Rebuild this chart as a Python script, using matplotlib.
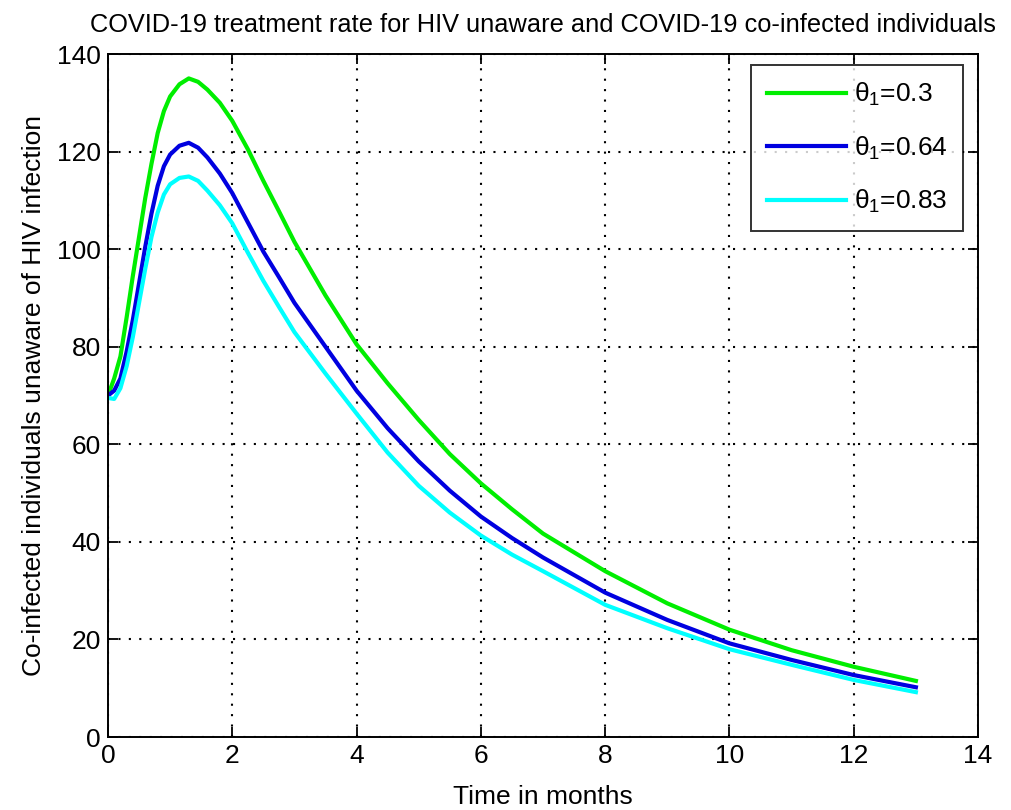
import matplotlib.pyplot as plt

plt.rcParams['font.family'] = ['Liberation Sans', 'DejaVu Sans']
plt.rcParams['mathtext.fontset'] = 'custom'
plt.rcParams['mathtext.rm'] = 'Liberation Sans'
plt.rcParams['mathtext.it'] = 'Liberation Sans'

# time in months and curve values
t = [0, 0.1, 0.2, 0.3, 0.4, 0.5, 0.6, 0.7, 0.8, 0.9, 1.0, 1.15, 1.3, 1.45, 1.6, 1.8,
     2.0, 2.25, 2.5, 2.75, 3.0, 3.5, 4, 4.5, 5, 5.5, 6, 6.5, 7, 8, 9, 10, 11, 12, 13]
theta_03 = [70, 73.5, 78, 86, 94.5, 102.5, 110.5, 117.5, 123.8, 128.3, 131.3, 133.8, 135, 134.3, 132.7, 130,
            126.3, 120.5, 114, 107.8, 101.5, 90.5, 80.5, 72.5, 65, 58, 52, 46.7, 41.7, 34, 27.4, 22, 17.8, 14.4, 11.5]
theta_064 = [70, 71, 73.5, 79, 85.5, 93, 100.5, 107.3, 113, 117, 119.4, 121.2, 121.8, 120.8, 118.8, 115.5,
             111.5, 105.5, 99.5, 94.3, 89, 80, 71, 63.3, 56.5, 50.5, 45.2, 40.8, 36.8, 29.6, 24, 19.2, 15.8, 12.7, 10.2]
theta_083 = [69.5, 69.3, 71.5, 76, 82, 89, 96, 102.5, 107.5, 111.2, 113.3, 114.6, 114.9, 114, 112, 109,
             105.3, 99.3, 93.5, 88.2, 83, 74.5, 66.3, 58.3, 51.5, 46, 41.3, 37.4, 34, 27.1, 22.3, 18, 14.8, 11.7, 9.2]

series = [
    (theta_03, '#00ee00', r'$\theta_1$=0.3'),
    (theta_064, '#0000e0', r'$\theta_1$=0.64'),
    (theta_083, '#00ffff', r'$\theta_1$=0.83'),
]

fig = plt.figure(figsize=(10.11, 8.10), dpi=100)
ax = fig.add_axes([0.1068, 0.0901, 0.8606, 0.8432])

for ys, color, label in series:
    ax.plot(t, ys, color=color, lw=3, label=label)

ax.set_xlim(0, 14)
ax.set_ylim(0, 140)
ax.set_xticks(range(0, 15, 2))
ax.set_yticks(range(0, 141, 20))
ax.grid(True, color='black', linestyle=(0, (1, 4)), linewidth=1.5)
ax.tick_params(direction='in', top=True, right=True, labelsize=19, length=7, width=1.3, pad=5)
for s in ax.spines.values():
    s.set_linewidth(1.4)

ax.set_xlabel('Time in months', fontsize=19, labelpad=12)
ax.set_ylabel('Co-infected individuals unaware of HIV infection', fontsize=19, labelpad=8)
ax.set_title('COVID-19 treatment rate for HIV unaware and COVID-19 co-infected individuals',
             fontsize=18.3, pad=16)

leg = ax.legend(loc='upper right', fontsize=19, frameon=True, fancybox=False,
                edgecolor='black', handlelength=3.0, handletextpad=0.3, borderpad=0.6,
                labelspacing=1.0, borderaxespad=0, bbox_to_anchor=(0.983, 0.984))
leg.get_frame().set_linewidth(1.4)

fig.savefig('out.png', dpi=100)
